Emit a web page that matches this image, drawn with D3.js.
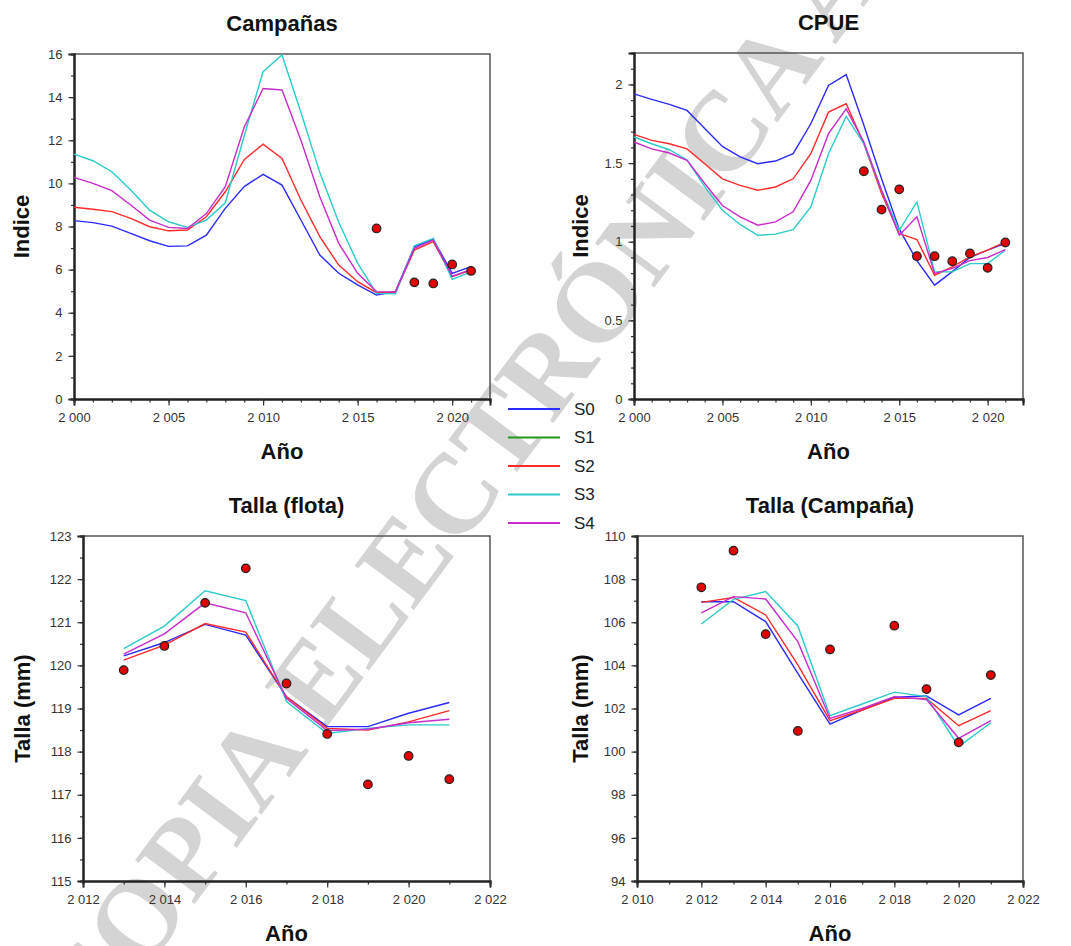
<!DOCTYPE html>
<html>
<head>
<meta charset="utf-8">
<script src="https://cdn.jsdelivr.net/npm/d3@7/dist/d3.min.js"></script>
<style>
  body { margin: 0; background: #fff; }
  text { font-family: Arial, "Liberation Sans", sans-serif; }
  text.watermark { font-family: "Liberation Serif", "DejaVu Serif", serif; }
</style>
</head>
<body>
<svg id="chart" width="1071" height="946"></svg>
<script>
// ---- data ----
var yearsLong = [2000,2001,2002,2003,2004,2005,2006,2007,2008,2009,2010,2011,2012,2013,2014,2015,2016,2017,2018,2019,2020,2021];

// Campañas
var campS0 = [8.27,8.18,8.02,7.68,7.34,7.08,7.10,7.60,8.84,9.85,10.42,9.92,8.30,6.68,5.83,5.29,4.82,4.98,7.06,7.40,5.83,6.14];
var campS2 = [8.89,8.80,8.69,8.38,7.99,7.80,7.84,8.45,9.61,11.10,11.82,11.16,9.23,7.53,6.21,5.44,4.93,4.96,6.91,7.30,5.67,5.98];
var campS3 = [11.36,11.05,10.54,9.69,8.76,8.22,7.96,8.30,9.10,12.20,15.18,15.95,13.30,10.50,8.20,6.30,4.90,4.88,7.10,7.45,5.55,5.90];
var campS4 = [10.28,10.00,9.66,9.00,8.30,7.96,7.91,8.60,9.85,12.60,14.40,14.33,12.00,9.38,7.22,5.83,4.98,4.96,6.99,7.37,5.70,6.00];
var campObsYears = [2016,2018,2019,2020,2021];
var campObs = [7.91,5.41,5.36,6.24,5.94];

// CPUE
var cpueS0 = [1.94,1.905,1.873,1.835,1.72,1.606,1.539,1.496,1.513,1.56,1.75,1.994,2.063,1.74,1.40,1.08,0.88,0.724,0.81,0.90,0.946,0.99];
var cpueS2 = [1.683,1.644,1.623,1.59,1.496,1.40,1.358,1.327,1.348,1.40,1.56,1.824,1.877,1.623,1.306,1.052,1.014,0.787,0.84,0.904,0.946,0.999];
var cpueS3 = [1.666,1.623,1.585,1.52,1.35,1.20,1.11,1.041,1.048,1.077,1.221,1.56,1.797,1.623,1.327,1.073,1.253,0.808,0.808,0.861,0.861,0.946];
var cpueS4 = [1.634,1.59,1.564,1.517,1.37,1.23,1.158,1.105,1.126,1.19,1.39,1.687,1.845,1.634,1.327,1.041,1.158,0.798,0.83,0.88,0.90,0.95];
var cpueObsYears = [2013,2014,2015,2016,2017,2018,2019,2020,2021];
var cpueObs = [1.448,1.204,1.333,0.908,0.908,0.876,0.925,0.834,0.995];

// Talla (flota)
var flotaYears = [2013,2014,2015,2016,2017,2018,2019,2020,2021];
var flotaS0 = [120.22,120.53,120.95,120.70,119.27,118.58,118.58,118.89,119.14];
var flotaS2 = [120.12,120.47,120.97,120.77,119.27,118.54,118.50,118.69,118.95];
var flotaS3 = [120.39,120.91,121.73,121.50,119.16,118.42,118.54,118.62,118.62];
var flotaS4 = [120.26,120.73,121.45,121.22,119.23,118.49,118.52,118.67,118.75];
var flotaObsYears = [2013,2014,2015,2016,2017,2018,2019,2020,2021];
var flotaObs = [119.89,120.45,121.45,122.25,119.58,118.41,117.24,117.90,117.36];

// Talla (Campaña)
var tcampYears = [2012,2013,2014,2015,2016,2017,2018,2019,2020,2021];
var tcampS0 = [106.95,106.95,106.03,103.63,101.28,101.93,102.52,102.58,101.70,102.47];
var tcampS2 = [106.92,107.15,106.34,104.02,101.44,101.93,102.47,102.47,101.20,101.90];
var tcampS3 = [105.92,107.06,107.42,105.83,101.67,102.21,102.76,102.55,100.23,101.34];
var tcampS4 = [106.44,107.19,107.08,105.10,101.54,102.00,102.55,102.42,100.62,101.44];
var tcampObsYears = [2012,2013,2014,2015,2016,2018,2019,2020,2021];
var tcampObs = [107.62,109.32,105.45,100.96,104.74,105.84,102.90,100.43,103.55];

// legend / ticks
var seriesNames = ["S0","S1","S2","S3","S4"];
var seriesColors = ["#2b2bff","#1f9a1f","#ff2b2b","#2ccaca","#c82ccc"];
var ticksYearA = [2000,2005,2010,2015,2020];
var ticksYearB = [2012,2014,2016,2018,2020,2022];
var ticksYearC = [2010,2012,2014,2016,2018,2020,2022];
var ticksCamp = [0,2,4,6,8,10,12,14,16];
var ticksCpue = [0,0.5,1,1.5,2];
var ticksFlota = [115,116,117,118,119,120,121,122,123];
var ticksTcamp = [94,96,98,100,102,104,106,108,110];

var svg = d3.select("#chart");

var spaceLocale = d3.formatLocale({ decimal: ".", thousands: " ", grouping: [3], currency: ["", ""] });
var yearFmt = spaceLocale.format(",d");

// watermark behind everything
svg.append("text")
  .attr("class", "watermark")
  .attr("transform", "translate(92,1042) rotate(-53.3)")
  .attr("font-weight", "bold")
  .attr("font-size", 113)
  .attr("fill", "#d4d4d4")
  .text("COPIA ELECTRÓNICA AUTÉNTICA");

function drawPanel (o) {
  var x = d3.scaleLinear().domain(o.xDomain).range([o.left, o.right]);
  var y = d3.scaleLinear().domain(o.yDomain).range([o.bottom, o.top]);
  var g = svg.append("g");

  // frame: top and right
  g.append("path")
    .attr("d", "M" + o.left + "," + o.top + "H" + o.right + "V" + o.bottom)
    .attr("fill", "none").attr("stroke", "#555").attr("stroke-width", 1.5);

  // minor ticks
  var xMinor = d3.axisBottom(x).tickValues(d3.range(o.xDomain[0], o.xDomain[1] + 0.001, 1)).tickSize(3.5).tickFormat("");
  var yMinor = d3.axisLeft(y).tickValues(d3.range(o.yDomain[0], o.yDomain[1] + o.yMinor / 2, o.yMinor)).tickSize(3).tickFormat("");
  g.append("g").attr("transform", "translate(0," + o.bottom + ")").call(xMinor);
  g.append("g").attr("transform", "translate(" + o.left + ",0)").call(yMinor);

  // major ticks
  var xAxis = d3.axisBottom(x).tickValues(o.xTicks).tickSize(6.5).tickPadding(7).tickFormat(yearFmt);
  var yAxis = d3.axisLeft(y).tickValues(o.yTicks).tickSize(5.5).tickPadding(6).tickFormat(d3.format(""));
  g.append("g").attr("transform", "translate(0," + o.bottom + ")").call(xAxis);
  g.append("g").attr("transform", "translate(" + o.left + ",0)").call(yAxis);

  g.selectAll(".domain").attr("stroke", "#222").attr("stroke-width", 2);
  g.selectAll(".tick line").attr("stroke", "#333").attr("stroke-width", 1.2);
  g.selectAll(".tick text").attr("font-size", 13).attr("fill", "#333");

  // lines
  var line = d3.line()
    .x(function (d) { return x(d[0]); })
    .y(function (d) { return y(d[1]); });
  o.series.forEach(function (s) {
    g.append("path")
      .datum(o.years.map(function (yr, i) { return [yr, s.values[i]]; }))
      .attr("fill", "none")
      .attr("stroke", s.color)
      .attr("stroke-width", 1.4)
      .attr("d", line);
  });

  // observed points
  g.selectAll("circle.obs")
    .data(o.obsYears.map(function (yr, i) { return [yr, o.obs[i]]; }))
    .enter().append("circle")
    .attr("class", "obs")
    .attr("cx", function (d) { return x(d[0]); })
    .attr("cy", function (d) { return y(d[1]); })
    .attr("r", 4.3)
    .attr("fill", "#e00000")
    .attr("stroke", "#222")
    .attr("stroke-width", 1.2);

  var cx = (o.left + o.right) / 2;
  g.append("text")
    .attr("x", cx).attr("y", o.top - 23)
    .attr("text-anchor", "middle")
    .attr("font-size", 22).attr("font-weight", "bold").attr("fill", "#111")
    .text(o.title);
  g.append("text")
    .attr("x", cx).attr("y", o.bottom + 60)
    .attr("text-anchor", "middle")
    .attr("font-size", 22).attr("font-weight", "bold").attr("fill", "#111")
    .text("Año");
  g.append("text")
    .attr("transform", "translate(" + (o.left - o.yLabelOff) + "," + ((o.top + o.bottom) / 2) + ") rotate(-90)")
    .attr("text-anchor", "middle").attr("dy", "0.35em")
    .attr("font-size", 22).attr("font-weight", "bold").attr("fill", "#111")
    .text(o.yLabel);
}

drawPanel({
  title: "Campañas", yLabel: "Indice", yLabelOff: 53,
  left: 74, right: 490, top: 54, bottom: 399,
  xDomain: [2000, 2022], yDomain: [0, 16], xTicks: ticksYearA, yTicks: ticksCamp, yMinor: 1,
  years: yearsLong,
  series: [
    { values: campS0, color: seriesColors[0] },
    { values: campS2, color: seriesColors[2] },
    { values: campS3, color: seriesColors[3] },
    { values: campS4, color: seriesColors[4] }
  ],
  obsYears: campObsYears, obs: campObs
});

drawPanel({
  title: "CPUE", yLabel: "Indice", yLabelOff: 54,
  left: 634, right: 1023, top: 53, bottom: 399,
  xDomain: [2000, 2022], yDomain: [0, 2.2], xTicks: ticksYearA, yTicks: ticksCpue, yMinor: 0.1,
  years: yearsLong,
  series: [
    { values: cpueS0, color: seriesColors[0] },
    { values: cpueS2, color: seriesColors[2] },
    { values: cpueS3, color: seriesColors[3] },
    { values: cpueS4, color: seriesColors[4] }
  ],
  obsYears: cpueObsYears, obs: cpueObs
});

drawPanel({
  title: "Talla (flota)", yLabel: "Talla (mm)", yLabelOff: 61,
  left: 83, right: 490, top: 536, bottom: 881,
  xDomain: [2012, 2022], yDomain: [115, 123], xTicks: ticksYearB, yTicks: ticksFlota, yMinor: 0.5,
  years: flotaYears,
  series: [
    { values: flotaS0, color: seriesColors[0] },
    { values: flotaS2, color: seriesColors[2] },
    { values: flotaS3, color: seriesColors[3] },
    { values: flotaS4, color: seriesColors[4] }
  ],
  obsYears: flotaObsYears, obs: flotaObs
});

drawPanel({
  title: "Talla (Campaña)", yLabel: "Talla (mm)", yLabelOff: 57,
  left: 637, right: 1023, top: 536, bottom: 881,
  xDomain: [2010, 2022], yDomain: [94, 110], xTicks: ticksYearC, yTicks: ticksTcamp, yMinor: 1,
  years: tcampYears,
  series: [
    { values: tcampS0, color: seriesColors[0] },
    { values: tcampS2, color: seriesColors[2] },
    { values: tcampS3, color: seriesColors[3] },
    { values: tcampS4, color: seriesColors[4] }
  ],
  obsYears: tcampObsYears, obs: tcampObs
});

// legend between the panels
var legendY = d3.scalePoint().domain(seriesNames).range([409, 523]);
var leg = svg.append("g").selectAll("g").data(seriesNames).enter().append("g")
  .attr("transform", function (d) { return "translate(0," + legendY(d) + ")"; });
leg.append("line")
  .attr("x1", 508).attr("x2", 560)
  .attr("stroke", function (d, i) { return seriesColors[i]; })
  .attr("stroke-width", 2);
leg.append("text")
  .attr("x", 574).attr("dy", "0.35em")
  .attr("font-size", 17).attr("fill", "#222")
  .text(function (d) { return d; });
</script>
</body>
</html>
